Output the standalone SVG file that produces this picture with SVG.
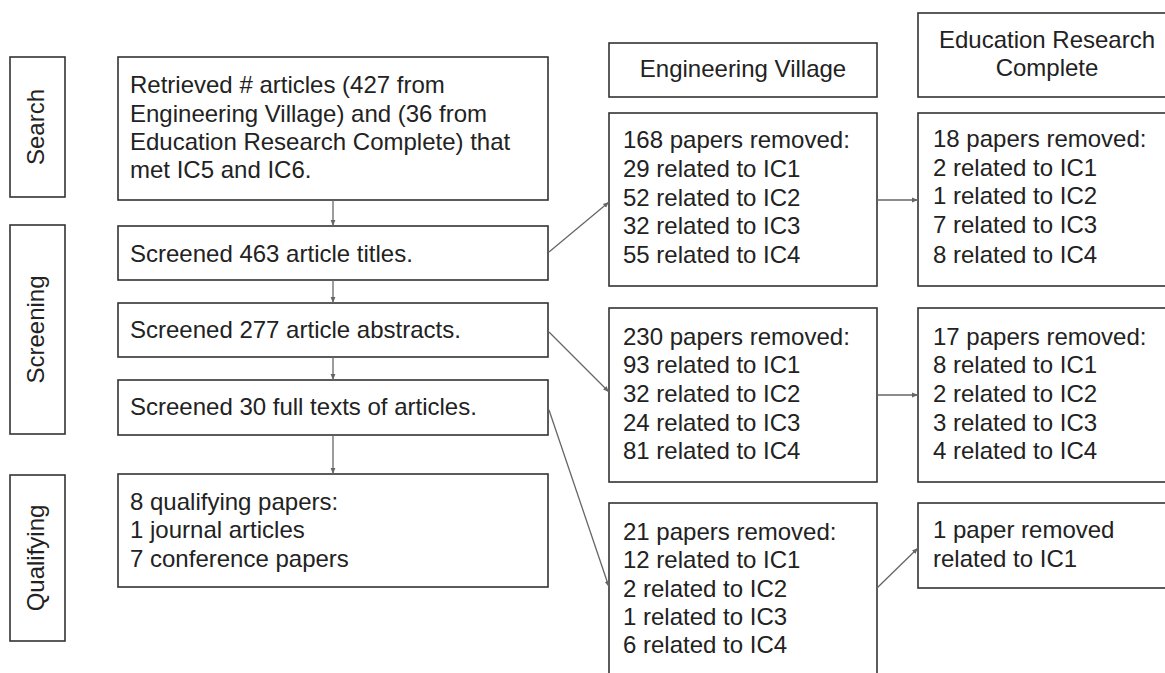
<svg xmlns="http://www.w3.org/2000/svg" width="1165" height="673" viewBox="0 0 1165 673">
<style>
.box{fill:#fff;stroke:#333;stroke-width:1.6}
.t{font-family:"Liberation Sans",Arial,sans-serif;font-size:24px;fill:#222}
.c{text-anchor:middle}
.ln{stroke:#666;stroke-width:1.3;fill:none;marker-end:url(#ah)}
</style>
<defs>
<marker id="ah" viewBox="0 0 10 10" refX="10" refY="5" markerWidth="6" markerHeight="6" markerUnits="userSpaceOnUse" orient="auto">
<path d="M0,1 L10,5 L0,9 z" fill="#666"/>
</marker>
</defs>
<rect width="1165" height="673" fill="#fff"/>
<g id="stage-search"><rect class="box" x="10" y="57" width="55" height="140"/><text class="t c" transform="translate(43.5,127) rotate(-90)">Search</text></g>
<g id="stage-screening"><rect class="box" x="10" y="225" width="55" height="209"/><text class="t c" transform="translate(43.5,329.5) rotate(-90)">Screening</text></g>
<g id="stage-qualifying"><rect class="box" x="10" y="475" width="55" height="166"/><text class="t c" transform="translate(43.5,558) rotate(-90)">Qualifying</text></g>

<g id="retrieved"><rect class="box" x="118" y="57" width="430" height="143"/>
<text class="t" x="130" y="93">Retrieved # articles (427 from</text>
<text class="t" x="130" y="122">Engineering Village) and (36 from</text>
<text class="t" x="130" y="150">Education Research Complete) that</text>
<text class="t" x="130" y="178">met IC5 and IC6.</text></g>
<g id="titles"><rect class="box" x="118" y="226" width="430" height="54"/><text class="t" x="130" y="262">Screened 463 article titles.</text></g>
<g id="abstracts"><rect class="box" x="118" y="303" width="430" height="54"/><text class="t" x="130" y="338">Screened 277 article abstracts.</text></g>
<g id="fulltexts"><rect class="box" x="118" y="380" width="430" height="55"/><text class="t" x="130" y="415">Screened 30 full texts of articles.</text></g>
<g id="qualifying"><rect class="box" x="118" y="474" width="430" height="113"/>
<text class="t" x="130" y="510">8 qualifying papers:</text>
<text class="t" x="130" y="538">1 journal articles</text>
<text class="t" x="130" y="567">7 conference papers</text></g>

<g id="hdr-ev"><rect class="box" x="609" y="43" width="268" height="54"/><text class="t c" x="743" y="77">Engineering Village</text></g>
<g id="hdr-erc"><rect class="box" x="918" y="13" width="272" height="84"/><text class="t c" x="1047" y="48">Education Research</text><text class="t c" x="1047" y="76">Complete</text></g>

<g id="ev-titles"><rect class="box" x="609" y="113" width="268" height="173"/>
<text class="t" x="623" y="148">168 papers removed:</text>
<text class="t" x="623" y="177">29 related to IC1</text>
<text class="t" x="623" y="206">52 related to IC2</text>
<text class="t" x="623" y="234">32 related to IC3</text>
<text class="t" x="623" y="263">55 related to IC4</text></g>
<g id="erc-titles"><rect class="box" x="918" y="113" width="272" height="173"/>
<text class="t" x="933" y="147">18 papers removed:</text>
<text class="t" x="933" y="176">2 related to IC1</text>
<text class="t" x="933" y="204">1 related to IC2</text>
<text class="t" x="933" y="233">7 related to IC3</text>
<text class="t" x="933" y="263">8 related to IC4</text></g>

<g id="ev-abstracts"><rect class="box" x="609" y="308" width="268" height="174"/>
<text class="t" x="623" y="345">230 papers removed:</text>
<text class="t" x="623" y="373">93 related to IC1</text>
<text class="t" x="623" y="402">32 related to IC2</text>
<text class="t" x="623" y="431">24 related to IC3</text>
<text class="t" x="623" y="459">81 related to IC4</text></g>
<g id="erc-abstracts"><rect class="box" x="918" y="308" width="272" height="174"/>
<text class="t" x="933" y="345">17 papers removed:</text>
<text class="t" x="933" y="373">8 related to IC1</text>
<text class="t" x="933" y="402">2 related to IC2</text>
<text class="t" x="933" y="431">3 related to IC3</text>
<text class="t" x="933" y="459">4 related to IC4</text></g>

<g id="ev-fulltexts"><rect class="box" x="609" y="503" width="268" height="190"/>
<text class="t" x="623" y="540">21 papers removed:</text>
<text class="t" x="623" y="568">12 related to IC1</text>
<text class="t" x="623" y="597">2 related to IC2</text>
<text class="t" x="623" y="625">1 related to IC3</text>
<text class="t" x="623" y="653">6 related to IC4</text></g>
<g id="erc-fulltexts"><rect class="box" x="918" y="503" width="272" height="85"/>
<text class="t" x="933" y="538">1 paper removed</text>
<text class="t" x="933" y="567">related to IC1</text></g>

<g id="connectors">
<line class="ln" x1="333" y1="200" x2="333" y2="226"/>
<line class="ln" x1="333" y1="280" x2="333" y2="303"/>
<line class="ln" x1="333" y1="357" x2="333" y2="380"/>
<line class="ln" x1="333" y1="435" x2="333" y2="474"/>
<line class="ln" x1="549" y1="252" x2="609" y2="202"/>
<line class="ln" x1="549" y1="332" x2="609" y2="392"/>
<line class="ln" x1="549" y1="410" x2="609" y2="587"/>
<line class="ln" x1="877" y1="200" x2="918" y2="200"/>
<line class="ln" x1="877" y1="395" x2="918" y2="395"/>
<line class="ln" x1="877" y1="588" x2="918" y2="548"/>
</g>
</svg>
